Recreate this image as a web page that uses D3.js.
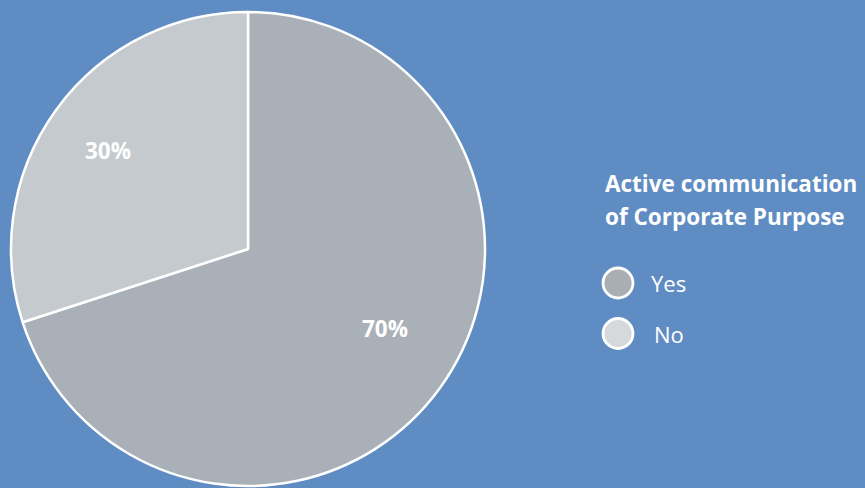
<!DOCTYPE html>
<html><head><meta charset="utf-8">
<script src="https://cdn.jsdelivr.net/npm/d3@7"></script>
<style>html,body{margin:0;padding:0;background:#5f8dc3;overflow:hidden}</style>
</head><body>
<svg id="c" width="865" height="488"></svg>
<script>
const categories = ["Yes", "No"];
const values = [70, 30];
const labels = ["70%", "30%"];
const colors = ["#a9b0b7", "#c5cace"];
const legendColors = ["#a9aeb3", "#d6d9db"];
const title = ["Active communication", "of Corporate Purpose"];

const svg = d3.select("#c");
svg.append("rect").attr("width",865).attr("height",488).attr("fill","#5f8dc3");
const cx = 248, cy = 249, r = 237;
const pie = d3.pie().sort(null).value(d => d)(values);
const arc = d3.arc().innerRadius(0).outerRadius(r);
const g = svg.append("g").attr("transform", `translate(${cx},${cy})`);
g.selectAll("path").data(pie).join("path")
  .attr("d", arc).attr("fill", (d,i) => colors[i])
  .attr("stroke", "#fff").attr("stroke-width", 2.5).attr("stroke-linejoin","round");
const labelPos = [[137, 88], [-140, -90]];
const font = "'Open Sans', sans-serif";
g.selectAll("text.l").data(pie).join("text").attr("class","l")
  .attr("x", (d,i) => labelPos[i][0]).attr("y", (d,i) => labelPos[i][1])
  .attr("text-anchor","middle").attr("fill","#fff")
  .attr("font-family",font).attr("font-weight",700).attr("font-size",22.5)
  .text((d,i) => labels[i]);

svg.selectAll("text.t").data(title).join("text").attr("class","t")
  .attr("x", 605).attr("y", (d,i) => 192 + i*33)
  .attr("fill","#fff").attr("font-family",font).attr("font-weight",700).attr("font-size",22.5)
  .text(d => d);
const lg = svg.selectAll("g.lg").data(categories).join("g").attr("class","lg")
  .attr("transform", (d,i) => `translate(618,${283 + i*50.5})`);
lg.append("circle").attr("r", 15).attr("fill", (d,i) => legendColors[i])
  .attr("stroke","#fff").attr("stroke-width",2.8);
lg.append("text").attr("x", (d,i) => i === 0 ? 33 : 36).attr("y", 9).attr("fill","#fff")
  .attr("font-family",font).attr("font-size",22).text(d => d);
</script>
</body></html>
